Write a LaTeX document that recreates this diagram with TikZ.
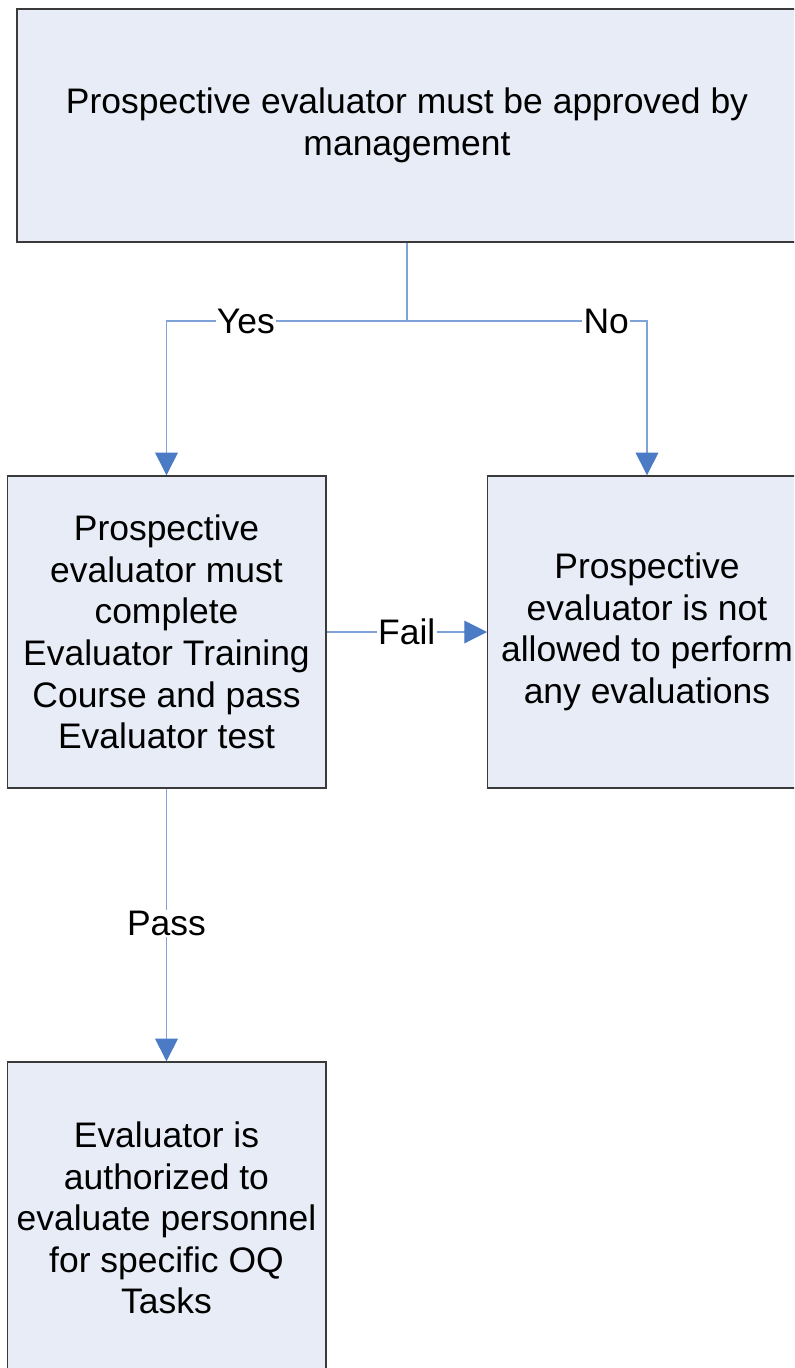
\documentclass[tikz,border=0pt]{standalone}
\usepackage{fontspec}
\setmainfont{Liberation Sans}
\usetikzlibrary{arrows.meta, positioning}
\definecolor{boxfill}{HTML}{E7ECF6}
\definecolor{boxline}{HTML}{3A3A3A}
\definecolor{wire}{HTML}{7FA2D8}
\definecolor{tipblue}{HTML}{4A7BC4}
\tikzset{
  box/.style={draw=boxline, line width=1pt, fill=boxfill, align=center,
    minimum width=239pt, minimum height=234pt, inner sep=2pt,
    font=\fontsize{26.6}{31.2}\selectfont},
  conn/.style={draw=wire, line width=0.8pt},
  arr/.style={conn, -{Triangle[length=17pt, width=17pt, color=tipblue]}},
  lbl/.style={fill=white, inner sep=1pt, font=\fontsize{26.6}{31.2}\selectfont},
}

\begin{document}
\begin{tikzpicture}[x=0.75pt, y=-0.75pt]
    \useasboundingbox (0,0) rectangle (794,1368);
    \clip (0,0) rectangle (794,1368);
    \node[box, minimum width=585pt, minimum height=174.75pt] (approve) at (407,125.5)
      {Prospective evaluator must be approved by\\management};
    \node[box] (course) at (166.5,632)
      {Prospective\\evaluator must\\complete\\Evaluator Training\\Course and pass\\Evaluator test};
    \node[box] (denied) at (647,632)
      {Prospective\\evaluator is not\\allowed to perform\\any evaluations};
    \node[box] (authorized) at (166.5,1218)
      {Evaluator is\\authorized to\\evaluate personnel\\for specific OQ\\Tasks};
    \coordinate (split) at (407,321);
    \draw[conn] (approve) -- (split);
    \draw[arr] (split) -| node[lbl, pos=0.335] {Yes} (course);
    \draw[arr] (split) -| node[lbl, pos=0.415] {No} (denied);
    \draw[arr] (course) -- node[lbl] {Fail} (denied);
    \draw[arr] (course) -- node[lbl, pos=0.495] {Pass} (authorized);
  \end{tikzpicture}
\end{document}
